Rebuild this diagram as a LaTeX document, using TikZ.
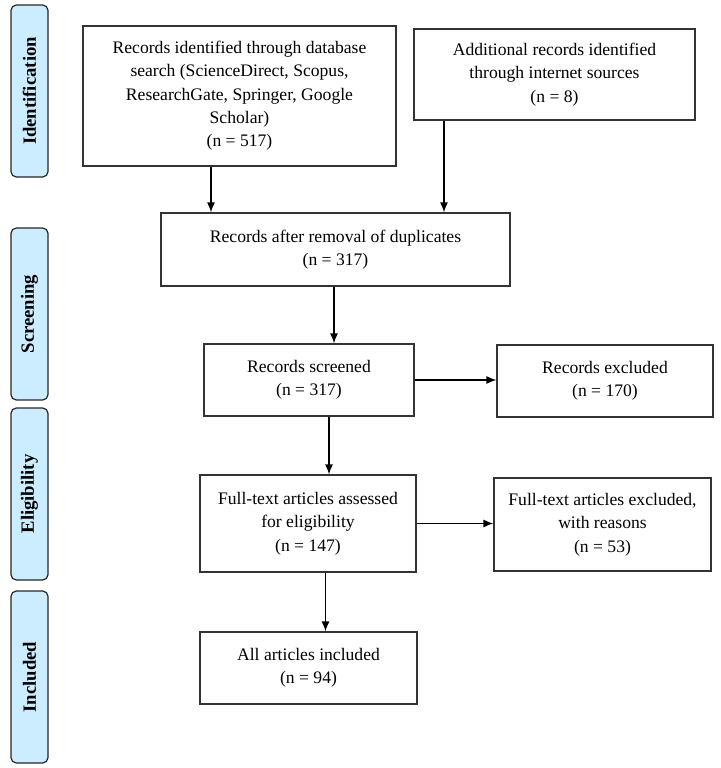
\documentclass[tikz,border=0pt]{standalone}
\usepackage{fontspec}
\setmainfont{Liberation Serif}
\usepackage{tikz}
\usetikzlibrary{arrows.meta,positioning}
\tikzset{>=latex}
\definecolor{faseblue}{RGB}{204,236,255}

\begin{document}
\begin{tikzpicture}[
    x=0.75pt, y=-0.75pt,
    boks/.style={rectangle, draw=black!80, line width=0.8pt, fill=white,
    align=center, inner sep=2pt
    , font=\fontsize{13.2}{17.5}\selectfont},
    fase/.style={rectangle, rounded corners=4pt, draw=black!85, line width=0.9pt
    , fill=faseblue, rotate=90, minimum width=129pt, minimum height=27.75pt
    , font=\fontsize{14}{16}\selectfont\bfseries},
    pil/.style={draw, line width=1.1pt, -{Latex[length=7.5pt,width=6pt]}}
    ]
\useasboundingbox (0,0) rectangle (721,768);
%Stages on the left
\node[fase] (ident) at (29.5,91) {Identification};
\node[fase] (screen) at (29.5,314) {Screening};
\node[fase] (elig) at (29.5,494) {Eligibility};
\node[fase] (incl) at (29.5,677) {Included};
%Identification
\node[boks, minimum width=234.75pt, minimum height=105pt] (db) at (239.5,96) {
    Records identified through database\\
    search (ScienceDirect, Scopus,\\
    ResearchGate, Springer, Google\\
    Scholar)\\
    (n = 517)};
\node[boks, minimum width=210.75pt, minimum height=68.25pt] (extra) at (554.5,74.5) {
    Additional records identified\\
    through internet sources\\
    (n = 8)};
%Screening
\node[boks, minimum width=261.75pt, minimum height=54.75pt] (dupl) at (335.5,249.5) {
    Records after removal of duplicates\\
    (n = 317)};
\node[boks, minimum width=157.5pt, minimum height=54pt] (scr) at (309,380) {
    Records screened\\
    (n = 317)};
\node[boks, minimum width=162pt, minimum height=54pt] (scrx) at (605,381) {
    Records excluded\\
    (n = 170)};
%Eligibility
\node[boks, minimum width=162pt, minimum height=72.75pt] (full) at (308,523.5) {
    Full-text articles assessed\\
    for eligibility\\
    (n = 147)};
\node[boks, minimum width=162.75pt, minimum height=69.75pt] (fullx) at (602.5,524.5) {
    Full-text articles excluded,\\
    with reasons\\
    (n = 53)};
%Included
\node[boks, minimum width=162.75pt, minimum height=54pt] (all) at (308.5,668) {
    All articles included\\
    (n = 94)};
%Arrows
\draw[pil] (db.south) ++(-28.5,0) coordinate (s1) -- (s1 |- dupl.north);
\draw[pil] (extra.south) ++(-110.5,0) coordinate (s2) -- (s2 |- dupl.north);
\draw[pil] (dupl.south) ++(-1.5,0) coordinate (s3) -- (s3 |- scr.north);
\draw[pil] (scr.south) ++(20,0) coordinate (s4) -- (s4 |- full.north);
\draw[pil] (full.south) ++(17.5,0) coordinate (s5) -- (s5 |- all.north);
\draw[pil] (scr.east) -- (scr.east -| scrx.west);
\draw[pil] (full.east) -- (full.east -| fullx.west);
\end{tikzpicture}
\end{document}
